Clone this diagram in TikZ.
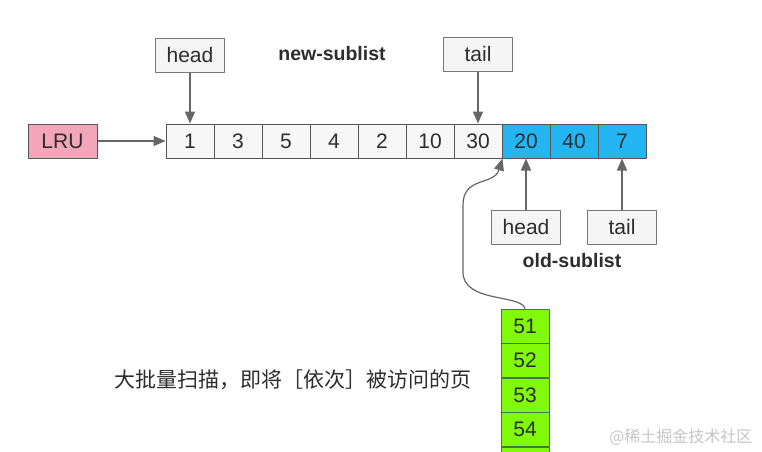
\documentclass[tikz,border=0pt]{standalone}
\usepackage{fontspec}
\setmainfont{Liberation Sans}
\newfontfamily\cjk{Noto Sans CJK SC}
\usepackage{xcolor}
\usetikzlibrary{arrows.meta}
\definecolor{lrupink}{RGB}{243,165,185}
\definecolor{oldblue}{RGB}{36,182,242}
\definecolor{pagegreen}{RGB}{128,250,10}
\definecolor{edgegray}{RGB}{85,85,85}
\definecolor{textgray}{RGB}{45,45,45}
\tikzset{
  cell/.style={draw=edgegray, line width=1pt, fill=gray!6, minimum width=48pt,
    minimum height=34pt, inner sep=0pt, text=textgray, font=\fontsize{21}{21}\selectfont},
  oldcell/.style={cell, fill=oldblue},
  pagecell/.style={cell, fill=pagegreen, draw=edgegray!80!green},
  ptrbox/.style={draw=edgegray!80, line width=1pt, fill=gray!8, minimum width=69pt,
    minimum height=34pt, inner sep=0pt, text=textgray, font=\fontsize{21}{21}\selectfont},
  ptr/.style={-{Triangle[length=12pt,width=10pt]}, draw=edgegray!90, line width=1.4pt},
  sublabel/.style={text=textgray, font=\fontsize{19.5}{19.5}\selectfont\bfseries}
}
\begin{document}
\begin{tikzpicture}[x=1pt, y=-1pt, line join=round]
  \useasboundingbox[fill=white] (0,0) rectangle (762,451);
  % the list: new part then old part
  \foreach \v [count=\i] in {1,3,5,4,2,10,30}
    \node[cell] (c\i) at ({166+48*(\i-0.5)},141) {\v};
  \foreach \v [count=\i from 8] in {20,40,7}
    \node[oldcell] (c\i) at ({166+48*(\i-0.5)},141) {\v};
  \node[ptrbox, fill=lrupink, draw=edgegray] (lru) at (62.5,141) {LRU};
  \draw[ptr] (lru.east) -- (c1.west);
  % pointers of the new sublist
  \node[ptrbox] (newhead) at (190,55) {head};
  \node[ptrbox] (newtail) at (478,54) {tail};
  \draw[ptr] (newhead.south) -- (c1.north);
  \draw[ptr] (newtail.south) -- (c7.north);
  \node[sublabel] (newlabel) at (332,54) {new-sublist};
  % pointers of the old sublist
  \node[ptrbox] (oldhead) at (526,227) {head};
  \node[ptrbox] (oldtail) at (622,227) {tail};
  \draw[ptr] (oldhead.north) -- (c8.south);
  \draw[ptr] (oldtail.north) -- (c10.south);
  \node[sublabel] (oldlabel) at (572,261) {old-sublist};
  % pages about to be read in a scan
  \foreach \v [count=\i] in {51,52,53,54,{}}
    \node[pagecell] (g\i) at (525,{326+34.5*(\i-1)}) {\v};
  \coordinate (midpt) at (c7.south east);
  \draw[ptr, line width=1.2pt] (g1.north) .. controls (521,294) and (463,303) .. (463,272)
    -- (463,205) .. controls (463,176) and (494,186) .. (midpt);
  \node[text=textgray, font=\cjk\fontsize{21}{21}\selectfont, anchor=west] (scan)
    at (111,380) {大批量扫描，即将［依次］被访问的页};
  \node[text=gray!45, font=\cjk\fontsize{16}{16}\selectfont, anchor=east] (mark)
    at (756,437) {@稀土掘金技术社区};
\end{tikzpicture}
\end{document}
